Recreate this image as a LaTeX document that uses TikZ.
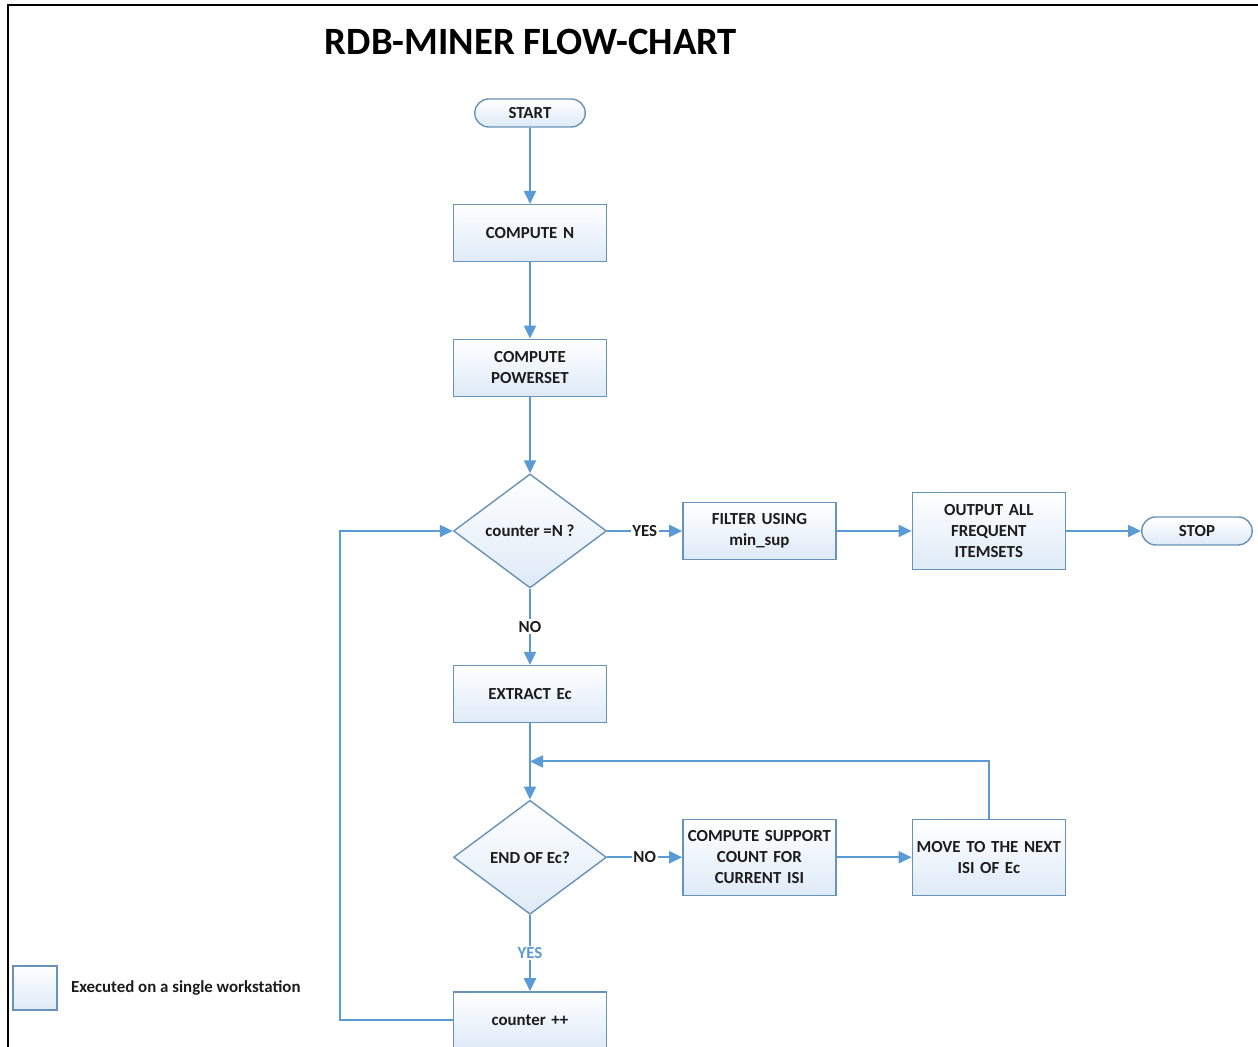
\documentclass[tikz,border=0pt]{standalone}
\usepackage{fontspec}
\setmainfont{Carlito}
\usetikzlibrary{calc,positioning,chains,shapes.geometric,shapes.misc,arrows.meta}
\definecolor{boxline}{RGB}{104,146,184}
\definecolor{boxfill}{RGB}{222,234,247}
\definecolor{flowblue}{RGB}{91,155,213}
\definecolor{txt}{RGB}{28,28,28}
\newcommand\boxfont{\fontsize{9.6}{12}\selectfont\bfseries}
\tikzset{
>={Triangle[length=2.6mm,width=2.4mm]},
  procblock/.style={
    rectangle,
    draw=boxline, thick,
    top color=white,
    bottom color=boxfill,
    text=txt,
    text width=2.98cm,
    minimum width=3.06cm,
    minimum height=1.14cm,
    inner sep=1pt,
    text centered,
    font=\boxfont},
  decision/.style={
    diamond,
    draw=boxline, thick,
    top color=white,
    bottom color=boxfill,
    text=txt,
    minimum width=3.06cm,
    minimum height=2.28cm,
    inner sep=1pt,
    font=\boxfont},
  terminal/.style={
    rounded rectangle,
    draw=boxline, thick,
    top color=white,
    bottom color=boxfill,
    text=txt,
    minimum width=2.28cm,
    minimum height=0.56cm,
    inner sep=1pt,
    font=\boxfont},
  line/.style={draw=flowblue, line width=1.1pt, ->},
  every join/.style={line},
  answer/.style={midway, fill=white, inner sep=1pt, text=txt, font=\boxfont},
}
\begin{document}
\begin{tikzpicture}
  [node distance=1.525cm and 1.50cm,
  start chain=going below,]
  \useasboundingbox (0,0) rectangle (25.16,-20.94);
  % frame and title
  \draw[line width=1.5pt] (0.16,-20.94) -- (0.16,-0.1) -- (25.16,-0.1);
  \node[font=\fontsize{22}{26}\selectfont\bfseries, text=black] (title) at (10.62,-0.84) {RDB-MINER FLOW-CHART};

  % main column
  \node[terminal, on chain] (start) at (10.6,-2.26) {START};
  \node[procblock, on chain, join] (computeN) {COMPUTE N};
  \node[procblock, on chain, join] (powerset) {COMPUTE\\POWERSET};
  \node[decision, on chain, join] (cond) {counter =N ?};
  \node[procblock, on chain] (extract) {EXTRACT Ec};
  \node[decision, on chain, join] (endEc) {END OF Ec?};
  \node[procblock, on chain] (counter) {counter ++};

  % right branches
  \node[procblock, right=of cond] (filter) {FILTER USING\\min\_sup};
  \node[procblock, right=of filter, minimum height=1.54cm] (output) {OUTPUT ALL\\FREQUENT\\ITEMSETS};
  \node[terminal, right=of output] (stop) {STOP};
  \node[procblock, right=of endEc, minimum height=1.52cm] (support) {COMPUTE SUPPORT\\COUNT FOR\\CURRENT ISI};
  \node[procblock, right=of support, minimum height=1.52cm] (move) {MOVE TO THE NEXT\\ISI OF Ec};

  % connectors
  \draw[line] (cond.south) -- node[answer] {NO} (extract.north);
  \draw[line] (cond.east) -- node[answer] {YES} (filter.west);
  \draw[line] (filter.east) -- (output.west);
  \draw[line] (output.east) -- (stop.west);
  \draw[line] (endEc.east) -- node[answer] {NO} (support.west);
  \draw[line] (support.east) -- (move.west);
  \draw[line] (endEc.south) -- node[answer, text=flowblue] {YES} (counter.north);
  \coordinate (merge) at ($(extract.south)!0.5!(endEc.north)$);
  \draw[line] (move.north) |- (merge);
  \coordinate (back) at ($(counter.west)+(-2.26,0)$);
  \draw[line] (counter.west) -- (back) |- (cond.west);

  % legend
  \node[draw=boxline, thick, top color=white, bottom color=boxfill, minimum size=0.88cm] (legend) at (0.7,-19.76) {};
  \node[right=0.26cm of legend, inner sep=0pt, text=txt, font=\boxfont] (legendtxt) {Executed on a single workstation};
\end{tikzpicture}
\end{document}
